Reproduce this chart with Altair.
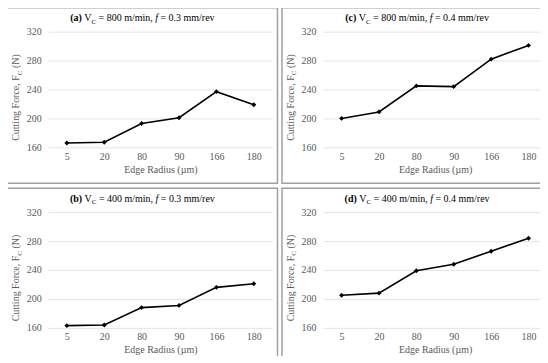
import altair as alt
import pandas as pd

# ---- data ----
radius = ["5", "20", "80", "90", "166", "180"]
force_a = [166, 167, 193, 201, 237, 219]
force_b = [163, 164, 188, 191, 216, 221]
force_c = [200, 209, 245, 244, 282, 301]
force_d = [205, 208, 239, 248, 266, 284]

panel_tags = ["(a)", "(b)", "(c)", "(d)"]
speeds = ["800", "400", "800", "400"]
feeds = ["0.3", "0.3", "0.4", "0.4"]
y_ticks = [160, 200, 240, 280, 320]

# ---- styling ----
FONT = "Liberation Serif"
W, H = 225, 116
GRAY = "#595959"
BORDER = "#a0a0a0"
one = pd.DataFrame({"k": [0]})

REG = {' ': 250, '(': 333, ')': 333, 'a': 444, 'b': 500, 'c': 444, 'd': 500, 'e': 444,
       'f': 333, 'g': 500, 'i': 278, 'm': 778, 'n': 500, 'o': 500, 'r': 333, 's': 389,
       't': 278, 'u': 500, 'v': 500, 'C': 667, 'E': 611, 'F': 556, 'N': 722, 'R': 667,
       'V': 722, '=': 564, '/': 278, ',': 250, '.': 250}
for dgt in "0123456789":
    REG[dgt] = 500
BOLD = {'(': 333, ')': 333, 'a': 500, 'b': 556, 'c': 444, 'd': 556}
ITAL = {'f': 278}


def tw(s, size, table):
    return sum(table.get(ch, REG.get(ch, 500)) for ch in s) * size / 1000.0


def rich_text(pieces, center, base, angle=0, color="black"):
    tables = []
    total = 0
    for txt, size, weight, style, shift in pieces:
        table = BOLD if weight == "bold" else (ITAL if style == "italic" else REG)
        tables.append(table)
        total += tw(txt, size, table)
    pos = -total / 2.0
    layers = []
    for (txt, size, weight, style, shift), table in zip(pieces, tables):
        lead = len(txt) - len(txt.lstrip(' '))
        start = pos + lead * REG[' '] * size / 1000.0
        if angle == 0:
            xv, yv = center + start, base + shift
        else:
            xv, yv = base + shift, center - start
        layers.append(
            alt.Chart(one).mark_text(
                text=txt.strip(), align="left", baseline="alphabetic", font=FONT,
                fontSize=size, fontWeight=weight, fontStyle=style, color=color, angle=angle,
            ).encode(x=alt.value(xv), y=alt.value(yv))
        )
        pos += tw(txt, size, table)
    return layers


def panel(values, tag, speed, feed):
    df = pd.DataFrame({"radius": radius, "force": values})
    border = alt.Chart(one).mark_rect(
        fill="white", fillOpacity=0, stroke=BORDER, strokeWidth=1.5
    ).encode(x=alt.value(-41), x2=alt.value(W + 5), y=alt.value(-24), y2=alt.value(H + 36))
    line = alt.Chart(df).mark_line(
        color="black", strokeWidth=1.6,
        point=alt.OverlayMarkDef(shape="diamond", filled=True, size=24, color="black"),
    ).encode(
        x=alt.X("radius:N", sort=radius,
                axis=alt.Axis(title="Edge Radius (µm)", labelAngle=0, ticks=False, domain=False,
                              grid=False, labelPadding=4, titlePadding=3)),
        y=alt.Y("force:Q", scale=alt.Scale(domain=[160, 320], nice=False, zero=False),
                axis=alt.Axis(values=y_ticks, title=None, ticks=False, domain=False, grid=True,
                              gridColor="#e4e4e4", labelPadding=7)),
    )
    title = rich_text([
        (tag, 10, "bold", "normal", 0),
        (" V", 10, "normal", "normal", 0),
        ("C", 7, "normal", "normal", 2.5),
        (" = " + speed + " m/min, ", 10, "normal", "normal", 0),
        ("f", 10, "normal", "italic", 0),
        (" = " + feed + " mm/rev", 10, "normal", "normal", 0),
    ], center=(W + 5 - 41) / 2.0, base=-10.5, color="black")
    ytitle = rich_text([
        ("Cutting Force, F", 10, "normal", "normal", 0),
        ("C", 7, "normal", "normal", 2.5),
        (" (N)", 10, "normal", "normal", 0),
    ], center=66, base=-29, angle=270, color=GRAY)
    return alt.layer(border, line, *title, *ytitle).properties(width=W, height=H)


pa = panel(force_a, panel_tags[0], speeds[0], feeds[0])
pb = panel(force_b, panel_tags[1], speeds[1], feeds[1])
pc = panel(force_c, panel_tags[2], speeds[2], feeds[2])
pd_ = panel(force_d, panel_tags[3], speeds[3], feeds[3])

chart = alt.vconcat(
    alt.hconcat(pa, pc, spacing=2.5),
    alt.hconcat(pb, pd_, spacing=2.5),
    spacing=3,
).properties(
    padding={"left": -1.75, "top": -1.75, "right": -13.75, "bottom": -9.25},
    background="white",
).configure_view(strokeWidth=0).configure_axis(
    labelFont=FONT, labelFontSize=10, labelColor=GRAY,
    titleFont=FONT, titleFontSize=10, titleColor=GRAY, titleFontWeight="normal",
)

chart.save("out.html", embed_options={"renderer": "svg", "actions": False})
